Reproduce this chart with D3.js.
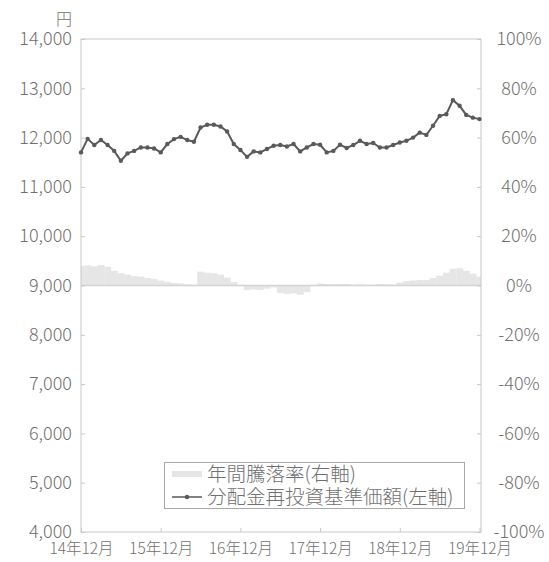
<!DOCTYPE html>
<html>
<head>
<meta charset="utf-8">
<script src="https://cdn.jsdelivr.net/npm/d3@7"></script>
<style>
  body { margin: 0; background: #fff; }
  svg text { font-family: "Noto Sans CJK JP", "Noto Sans", sans-serif; font-weight: 300; fill: #707070; }
</style>
</head>
<body>
<script>
    "use strict";

    // months, 14年12月 .. 19年12月
    var months = [
        "14年12月", "15年1月", "15年2月", "15年3月", "15年4月", "15年5月", "15年6月",
        "15年7月", "15年8月", "15年9月", "15年10月", "15年11月", "15年12月",
        "16年1月", "16年2月", "16年3月", "16年4月", "16年5月", "16年6月",
        "16年7月", "16年8月", "16年9月", "16年10月", "16年11月", "16年12月",
        "17年1月", "17年2月", "17年3月", "17年4月", "17年5月", "17年6月",
        "17年7月", "17年8月", "17年9月", "17年10月", "17年11月", "17年12月",
        "18年1月", "18年2月", "18年3月", "18年4月", "18年5月", "18年6月",
        "18年7月", "18年8月", "18年9月", "18年10月", "18年11月", "18年12月",
        "19年1月", "19年2月", "19年3月", "19年4月", "19年5月", "19年6月",
        "19年7月", "19年8月", "19年9月", "19年10月", "19年11月", "19年12月"
    ];

    // 分配金再投資基準価額 (円, left axis)
    var navValues = [
        11700, 11975, 11850, 11950, 11850, 11730, 11530, 11680, 11730, 11800, 11800, 11780,
        11700, 11870, 11970, 12015, 11950, 11915, 12205, 12260, 12260, 12225, 12125, 11870,
        11750, 11610, 11720, 11700, 11770, 11835, 11850, 11820, 11870, 11720, 11800, 11870,
        11855, 11700, 11730, 11855, 11790, 11850, 11935, 11870, 11890, 11800, 11800, 11850,
        11900, 11935, 12000, 12100, 12055, 12240, 12440, 12475, 12760, 12645, 12460, 12405,
        12375
    ];

    // 年間騰落率 (%, right axis)
    var yearlyReturn = [
        8.0, 8.2, 7.8, 8.3, 7.6, 6.0, 5.0, 4.4, 3.8, 3.6, 3.0, 2.6,
        2.0, 1.5, 1.0, 0.8, 0.5, 0.3, 5.6, 5.2, 5.0, 4.4, 3.2, 1.4,
        0.3, -1.8, -1.6, -1.8, -1.3, -0.8, -3.0, -3.4, -3.2, -3.8, -2.7, -0.2,
        0.8, 0.6, 0.5, 0.7, 0.6, 0.3, 0.5, 0.3, 0.4, 0.6, 0.5, 0.4,
        1.2, 1.8, 2.0, 2.2, 2.2, 3.0, 4.0, 5.2, 6.8, 7.0, 6.0, 4.8,
        3.6
    ];

    var xTickLabels = ["14年12月", "15年12月", "16年12月", "17年12月", "18年12月", "19年12月"];
    var leftTicks = [4000, 5000, 6000, 7000, 8000, 9000, 10000, 11000, 12000, 13000, 14000];
    var rightTicks = [-100, -80, -60, -40, -20, 0, 20, 40, 60, 80, 100];
    var legendLabels = ["年間騰落率(右軸)", "分配金再投資基準価額(左軸)"];

    var chartWidth = 549,
        chartHeight = 562,
        plotLeft = 81,
        plotRight = 481,
        plotTop = 39,
        plotBottom = 532;

    var xScale = d3.scalePoint()
                   .domain(months)
                   .range([plotLeft, plotRight - 1.5]);

    var yLeft = d3.scaleLinear()
                  .domain([4000, 14000])
                  .range([plotBottom, plotTop]);

    var yRight = d3.scaleLinear()
                   .domain([-100, 100])
                   .range([plotBottom, plotTop]);

    var svg = d3.select("body").append("svg")
        .attr("width", chartWidth)
        .attr("height", chartHeight);

    svg.append("clipPath").attr("id", "plot")
        .append("rect")
        .attr("x", plotLeft).attr("y", plotTop)
        .attr("width", plotRight - plotLeft).attr("height", plotBottom - plotTop);

    // bars (yearly return)
    var step = xScale.step();
    svg.append("g")
        .attr("clip-path", "url(#plot)")
        .selectAll("rect")
        .data(yearlyReturn)
        .enter().append("rect")
            .attr("x", function(d, i) { return xScale(months[i]) - step / 2; })
            .attr("width", step + 0.3)
            .attr("y", function(d) { return yRight(Math.max(d, 0)); })
            .attr("height", function(d) { return Math.abs(yRight(d) - yRight(0)); })
            .style("fill", "#e6e6e6");

    // zero line
    svg.append("line")
        .attr("x1", plotLeft).attr("x2", plotRight)
        .attr("y1", yRight(0)).attr("y2", yRight(0))
        .style("stroke", "#d4d4d4")
        .style("stroke-width", 1.5);

    // frame
    svg.append("rect")
        .attr("x", plotLeft).attr("y", plotTop)
        .attr("width", plotRight - plotLeft).attr("height", plotBottom - plotTop)
        .style("fill", "none")
        .style("stroke", "#c8c8c8")
        .style("stroke-width", 1);

    // axes
    var leftAxis = svg.append("g")
        .attr("transform", "translate(" + plotLeft + ",0)")
        .call(d3.axisLeft(yLeft)
            .tickValues(leftTicks)
            .tickSizeInner(-4).tickSizeOuter(0)
            .tickPadding(9)
            .tickFormat(d3.format(",")));

    var rightAxis = svg.append("g")
        .attr("transform", "translate(" + plotRight + ",0)")
        .call(d3.axisRight(yRight)
            .tickValues(rightTicks)
            .tickSizeInner(-4).tickSizeOuter(0)
            .tickPadding(38)
            .tickFormat(function(d) { return d + "%"; }));
    rightAxis.selectAll("text").attr("text-anchor", "middle");

    var bottomAxis = svg.append("g")
        .attr("transform", "translate(0," + plotBottom + ")")
        .call(d3.axisBottom(xScale)
            .tickValues(xTickLabels)
            .tickSizeInner(-4).tickSizeOuter(0)
            .tickPadding(11));

    [leftAxis, rightAxis, bottomAxis].forEach(function(g) {
        g.select(".domain").remove();
        g.selectAll(".tick line").style("stroke", "#c8c8c8");
        g.selectAll("text").style("fill", "#707070").style("font-family", null);
    });
    leftAxis.selectAll("text").style("font-size", "18px");
    rightAxis.selectAll("text").style("font-size", "18px");
    bottomAxis.selectAll("text").style("font-size", "15.5px");

    svg.append("text")
        .attr("x", 72).attr("y", 25)
        .attr("text-anchor", "end")
        .style("font-size", "16px")
        .text("円");

    // nav line
    var line = d3.line()
        .x(function(d, i) { return xScale(months[i]); })
        .y(function(d) { return yLeft(d); });

    svg.append("path")
        .datum(navValues)
        .attr("d", line)
        .style("fill", "none")
        .style("stroke", "#5a5a5a")
        .style("stroke-width", 2);

    svg.append("g")
        .selectAll("circle")
        .data(navValues)
        .enter().append("circle")
            .attr("cx", function(d, i) { return xScale(months[i]); })
            .attr("cy", function(d) { return yLeft(d); })
            .attr("r", 2.2)
            .style("fill", "#5a5a5a");

    // legend
    var legend = svg.append("g");
    legend.append("rect")
        .attr("x", 164.5).attr("y", 462.5)
        .attr("width", 300).attr("height", 46)
        .style("fill", "#fff")
        .style("stroke", "#a8a8a8")
        .style("stroke-width", 1);

    legend.append("line")
        .attr("x1", 172).attr("x2", 202)
        .attr("y1", 474).attr("y2", 474)
        .style("stroke", "#e6e6e6")
        .style("stroke-width", 6);

    legend.append("line")
        .attr("x1", 172).attr("x2", 202)
        .attr("y1", 497).attr("y2", 497)
        .style("stroke", "#5a5a5a")
        .style("stroke-width", 1.5);
    legend.append("circle")
        .attr("cx", 187).attr("cy", 497).attr("r", 2.2)
        .style("fill", "#5a5a5a");

    legend.selectAll("text.lab")
        .data(legendLabels)
        .enter().append("text")
            .attr("class", "lab")
            .attr("x", 207)
            .attr("y", function(d, i) { return 474 + i * 23; })
            .attr("dy", "0.36em")
            .style("font-size", "19.5px")
            .text(function(d) { return d; });
</script>
</body>
</html>
